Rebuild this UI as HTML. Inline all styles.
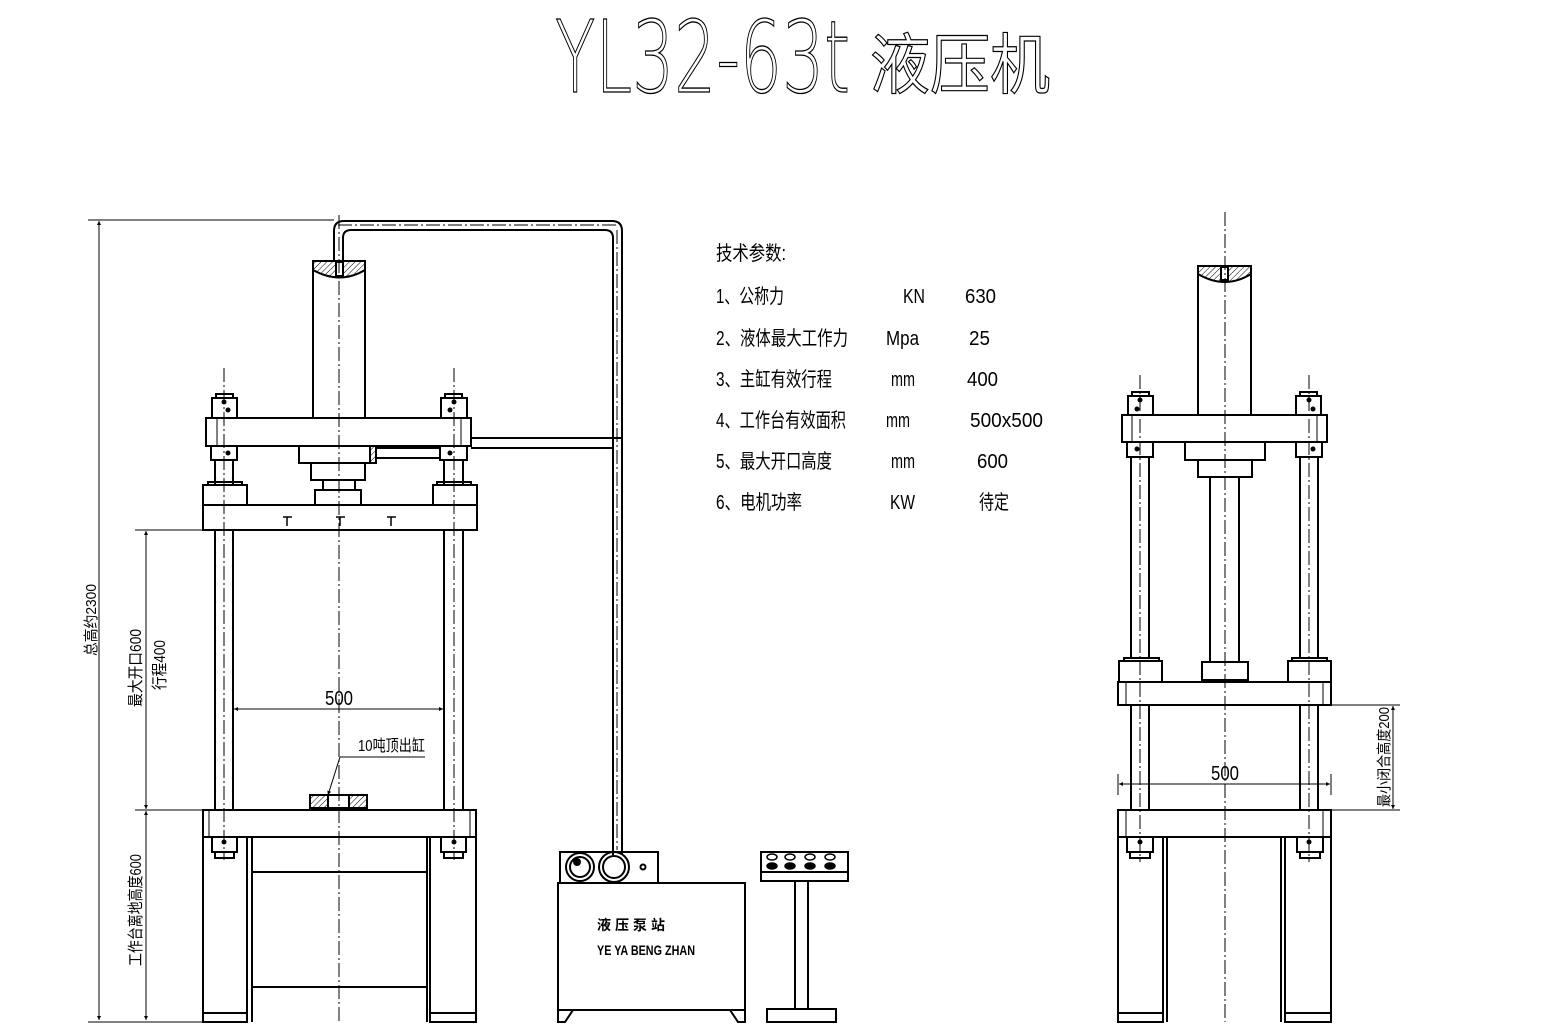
<!DOCTYPE html>
<html><head><meta charset="utf-8"><style>
html,body{margin:0;padding:0;background:#fff;}
svg{display:block;}
text{font-family:"Liberation Sans","Noto Sans CJK SC",sans-serif;fill:#000;}
</style></head><body>
<svg width="1541" height="1029" viewBox="0 0 1541 1029" xmlns="http://www.w3.org/2000/svg">
<defs>
<pattern id="h" width="4" height="4" patternUnits="userSpaceOnUse" patternTransform="rotate(45)"><line x1="0" y1="0" x2="0" y2="4" stroke="#000" stroke-width="1"/></pattern>
<marker id="a" viewBox="0 0 10 10" refX="10" refY="5" markerWidth="10" markerHeight="4" orient="auto-start-reverse" markerUnits="userSpaceOnUse"><path d="M0,0L10,5L0,10z" fill="#000"/></marker>
</defs>
<!-- Title -->
<text x="555" y="92" font-size="100" textLength="295" lengthAdjust="spacingAndGlyphs" style="font-family:'DejaVu Sans','Liberation Sans',sans-serif;font-weight:200;fill:#fff;stroke:#000;stroke-width:1.3">YL32-63t</text>
<text x="870" y="88" font-size="66" textLength="180" lengthAdjust="spacingAndGlyphs" style="fill:#fff;stroke:#000;stroke-width:1.2">液压机</text>

<g fill="none" stroke="#000" stroke-width="2">
<!-- LEFT MACHINE -->
<path d="M334,261V231Q334,221 344,221H612Q622,221 622,231V855"/>
<path d="M343,261V238Q343,230 351,230H605Q613,230 613,238V855"/>
<path d="M471,438H622M471,448H613"/>
<path d="M375,448H440M375,458H440"/>
<rect x="313" y="261" width="52" height="157"/>
<path d="M313,261H365V270Q340,285 313,270Z" fill="url(#h)"/>
<rect x="336" y="262" width="7" height="14" fill="#fff"/>
<rect x="206" y="418" width="265" height="28"/>
<path d="M217,418V446M461,418V446" stroke-width="1"/>
<rect x="212" y="398" width="25" height="20"/><rect x="216" y="394" width="17" height="4"/>
<rect x="441" y="398" width="26" height="20"/><rect x="445" y="394" width="17" height="4"/>
<rect x="211" y="446" width="26" height="14"/><rect x="440" y="446" width="27" height="14"/>
<path d="M215,460V485M233,460V485M444,460V485M463,460V485"/>
<path d="M215,530V810M233,530V810M444,530V810M463,530V810"/>
<rect x="299" y="446" width="77" height="17"/>
<rect x="311" y="463" width="54" height="17"/>
<rect x="323" y="480" width="32" height="10"/>
<rect x="315" y="490" width="46" height="15"/>
<rect x="370" y="446" width="6" height="17" fill="url(#h)"/>
<rect x="203" y="505" width="274" height="25"/>
<rect x="203" y="485" width="44" height="20"/><rect x="208" y="482" width="34" height="3"/>
<rect x="433" y="485" width="44" height="20"/><rect x="437" y="482" width="34" height="3"/>
<path d="M283,517H292M287,517V526M336,517H345M340,517V526M387,517H396M391,517V526" stroke-width="1.5"/>
<rect x="203" y="810" width="273" height="27"/>
<path d="M209,810V837M470,810V837" stroke-width="1"/>
<rect x="310" y="795" width="57" height="13"/>
<rect x="310" y="795" width="18" height="13" fill="url(#h)"/><rect x="349" y="795" width="18" height="13" fill="url(#h)"/>
<rect x="212" y="837" width="25" height="15"/><rect x="215" y="852" width="19" height="6"/>
<rect x="441" y="837" width="25" height="15"/><rect x="444" y="852" width="19" height="6"/>
<rect x="203" y="837" width="44" height="185"/>
<rect x="430" y="837" width="46" height="185"/>
<path d="M252,837V1022M427,837V1022M252,872H427M252,987H427M203,1013H247M430,1013H476"/>

<path d="M88,220H334M135,530H206M135,810H206M88,1022H203" stroke-width="1"/>
<line x1="99" y1="221" x2="99" y2="1020" stroke-width="1" marker-start="url(#a)" marker-end="url(#a)"/>
<line x1="146" y1="531" x2="146" y2="809" stroke-width="1" marker-start="url(#a)" marker-end="url(#a)"/>
<line x1="146" y1="811" x2="146" y2="1020" stroke-width="1" marker-start="url(#a)" marker-end="url(#a)"/>
<line x1="234" y1="709" x2="443" y2="709" stroke-width="1" marker-start="url(#a)" marker-end="url(#a)"/>
<path d="M425,757H340" stroke-width="1"/>
<line x1="340" y1="757" x2="328" y2="795" stroke-width="1" marker-end="url(#a)"/>

<!-- PUMP -->
<rect x="560" y="852" width="98" height="31"/>
<circle cx="580" cy="867" r="14"/><circle cx="580" cy="867" r="10"/><circle cx="577" cy="862" r="3" fill="#000"/>
<circle cx="614" cy="867" r="15"/><circle cx="614" cy="867" r="11"/>
<circle cx="643" cy="867" r="2.5"/>
<rect x="558" y="883" width="187" height="127"/>
<path d="M558,1010V1022H565L573,1010M745,1010V1022H738L730,1010"/>
<rect x="761" y="852" width="87" height="20"/>
<rect x="761" y="872" width="87" height="9"/>
<g stroke-width="1.5">
<ellipse cx="772" cy="857" rx="5" ry="3"/><ellipse cx="790" cy="857" rx="5" ry="3"/><ellipse cx="810" cy="857" rx="5" ry="3"/><ellipse cx="830" cy="857" rx="5" ry="3"/>
<ellipse cx="772" cy="866" rx="5" ry="3" fill="#000"/><ellipse cx="790" cy="866" rx="5" ry="3" fill="#000"/><ellipse cx="810" cy="866" rx="5" ry="3" fill="#000"/><ellipse cx="830" cy="866" rx="5" ry="3" fill="#000"/>
</g>
<rect x="795" y="881" width="13" height="128"/>
<rect x="767" y="1009" width="69" height="13"/>

<!-- RIGHT MACHINE -->
<rect x="1198" y="266" width="53" height="149"/>
<path d="M1198,266H1251V274Q1225,290 1198,274Z" fill="url(#h)"/>
<rect x="1221" y="267" width="7" height="13" fill="#fff"/>
<rect x="1122" y="415" width="205" height="27"/>
<path d="M1132,415V442M1317,415V442" stroke-width="1"/>
<rect x="1128" y="396" width="25" height="19"/><rect x="1132" y="392" width="17" height="4"/>
<rect x="1296" y="396" width="25" height="19"/><rect x="1300" y="392" width="17" height="4"/>
<rect x="1127" y="442" width="26" height="15"/><rect x="1296" y="442" width="26" height="15"/>
<rect x="1185" y="442" width="80" height="18"/>
<rect x="1198" y="460" width="54" height="17"/>
<rect x="1210" y="477" width="29" height="185"/>
<rect x="1202" y="662" width="46" height="18"/>
<path d="M1131,457V658M1149,457V658M1300,457V658M1318,457V658"/>
<rect x="1119" y="661" width="43" height="21"/><rect x="1124" y="658" width="35" height="3"/>
<rect x="1288" y="661" width="43" height="21"/><rect x="1292" y="658" width="35" height="3"/>
<rect x="1118" y="682" width="213" height="23"/>
<path d="M1126,682V705M1323,682V705" stroke-width="1"/>
<path d="M1131,705V810M1149,705V810M1300,705V810M1318,705V810"/>
<rect x="1118" y="810" width="213" height="27"/>
<path d="M1126,810V837M1323,810V837" stroke-width="1"/>
<rect x="1127" y="837" width="26" height="15"/><rect x="1130" y="852" width="20" height="6"/>
<rect x="1297" y="837" width="26" height="15"/><rect x="1300" y="852" width="20" height="6"/>
<rect x="1118" y="837" width="45" height="185"/>
<rect x="1285" y="837" width="46" height="185"/>
<path d="M1167,837V1022M1281,837V1022M1118,1013H1163M1285,1013H1331"/>
<path d="M1118,774V795M1331,774V795M1331,705H1400M1331,810H1400" stroke-width="1"/>
<line x1="1119" y1="784" x2="1330" y2="784" stroke-width="1" marker-start="url(#a)" marker-end="url(#a)"/>
<line x1="1393" y1="706" x2="1393" y2="809" stroke-width="1" marker-start="url(#a)" marker-end="url(#a)"/>
</g>

<g stroke="#000" stroke-width="1" stroke-dasharray="14,3,2,3" fill="none">
<path d="M339,215V1022M1225,212V1022"/>
<path d="M224,368V860M454,368V860M1140,375V862M1309,375V862"/>
<path d="M338,225H618M617,230V850"/>
</g>
<g fill="#000">
<circle cx="224" cy="402" r="2.5"/><circle cx="228" cy="410" r="2.5"/><circle cx="228" cy="453" r="2.5"/>
<circle cx="454" cy="402" r="2.5"/><circle cx="450" cy="410" r="2.5"/><circle cx="450" cy="453" r="2.5"/>
<circle cx="224" cy="842" r="2.5"/><circle cx="454" cy="842" r="2.5"/>
<circle cx="1140" cy="400" r="2.5"/><circle cx="1137" cy="409" r="2.5"/><circle cx="1137" cy="449" r="2.5"/>
<circle cx="1309" cy="400" r="2.5"/><circle cx="1313" cy="409" r="2.5"/><circle cx="1313" cy="449" r="2.5"/>
<circle cx="1140" cy="842" r="2.5"/><circle cx="1309" cy="842" r="2.5"/>
</g>

<text x="339" y="705" font-size="20" text-anchor="middle" textLength="28" lengthAdjust="spacingAndGlyphs">500</text>
<text x="1225" y="780" font-size="20" text-anchor="middle" textLength="28" lengthAdjust="spacingAndGlyphs">500</text>
<text x="358" y="751" font-size="16" textLength="67" lengthAdjust="spacingAndGlyphs">10吨顶出缸</text>
<text transform="translate(96,620) rotate(-90)" font-size="15" text-anchor="middle" textLength="72" lengthAdjust="spacingAndGlyphs">总高约2300</text>
<text transform="translate(141,668) rotate(-90)" font-size="16" text-anchor="middle" textLength="78" lengthAdjust="spacingAndGlyphs">最大开口600</text>
<text transform="translate(165,665) rotate(-90)" font-size="16" text-anchor="middle" textLength="50" lengthAdjust="spacingAndGlyphs">行程400</text>
<text transform="translate(141,910) rotate(-90)" font-size="16" text-anchor="middle" textLength="112" lengthAdjust="spacingAndGlyphs">工作台离地高度600</text>
<text transform="translate(1389,757) rotate(-90)" font-size="15" text-anchor="middle" textLength="100" lengthAdjust="spacingAndGlyphs">最小闭合高度200</text>
<text x="597" y="930" font-size="14" font-weight="bold" textLength="68" lengthAdjust="spacing">液 压 泵 站</text>
<text x="597" y="955" font-size="14" font-weight="bold" textLength="98" lengthAdjust="spacingAndGlyphs">YE YA BENG ZHAN</text>

<g font-size="20">
<text x="716" y="260" textLength="70" lengthAdjust="spacingAndGlyphs">技术参数:</text>
<text x="716" y="303" textLength="68" lengthAdjust="spacingAndGlyphs">1、公称力</text>
<text x="903" y="303" textLength="22" lengthAdjust="spacingAndGlyphs">KN</text>
<text x="965" y="303" textLength="31" lengthAdjust="spacingAndGlyphs">630</text>
<text x="716" y="345" textLength="132" lengthAdjust="spacingAndGlyphs">2、液体最大工作力</text>
<text x="886" y="345" textLength="33" lengthAdjust="spacingAndGlyphs">Mpa</text>
<text x="969" y="345" textLength="21" lengthAdjust="spacingAndGlyphs">25</text>
<text x="716" y="386" textLength="116" lengthAdjust="spacingAndGlyphs">3、主缸有效行程</text>
<text x="891" y="386" textLength="24" lengthAdjust="spacingAndGlyphs">mm</text>
<text x="967" y="386" textLength="31" lengthAdjust="spacingAndGlyphs">400</text>
<text x="716" y="427" textLength="130" lengthAdjust="spacingAndGlyphs">4、工作台有效面积</text>
<text x="886" y="427" textLength="24" lengthAdjust="spacingAndGlyphs">mm</text>
<text x="970" y="427" textLength="73" lengthAdjust="spacingAndGlyphs">500x500</text>
<text x="716" y="468" textLength="116" lengthAdjust="spacingAndGlyphs">5、最大开口高度</text>
<text x="891" y="468" textLength="24" lengthAdjust="spacingAndGlyphs">mm</text>
<text x="977" y="468" textLength="31" lengthAdjust="spacingAndGlyphs">600</text>
<text x="716" y="509" textLength="86" lengthAdjust="spacingAndGlyphs">6、电机功率</text>
<text x="890" y="509" textLength="25" lengthAdjust="spacingAndGlyphs">KW</text>
<text x="979" y="509" textLength="30" lengthAdjust="spacingAndGlyphs">待定</text>
</g>
</svg>
</body></html>
